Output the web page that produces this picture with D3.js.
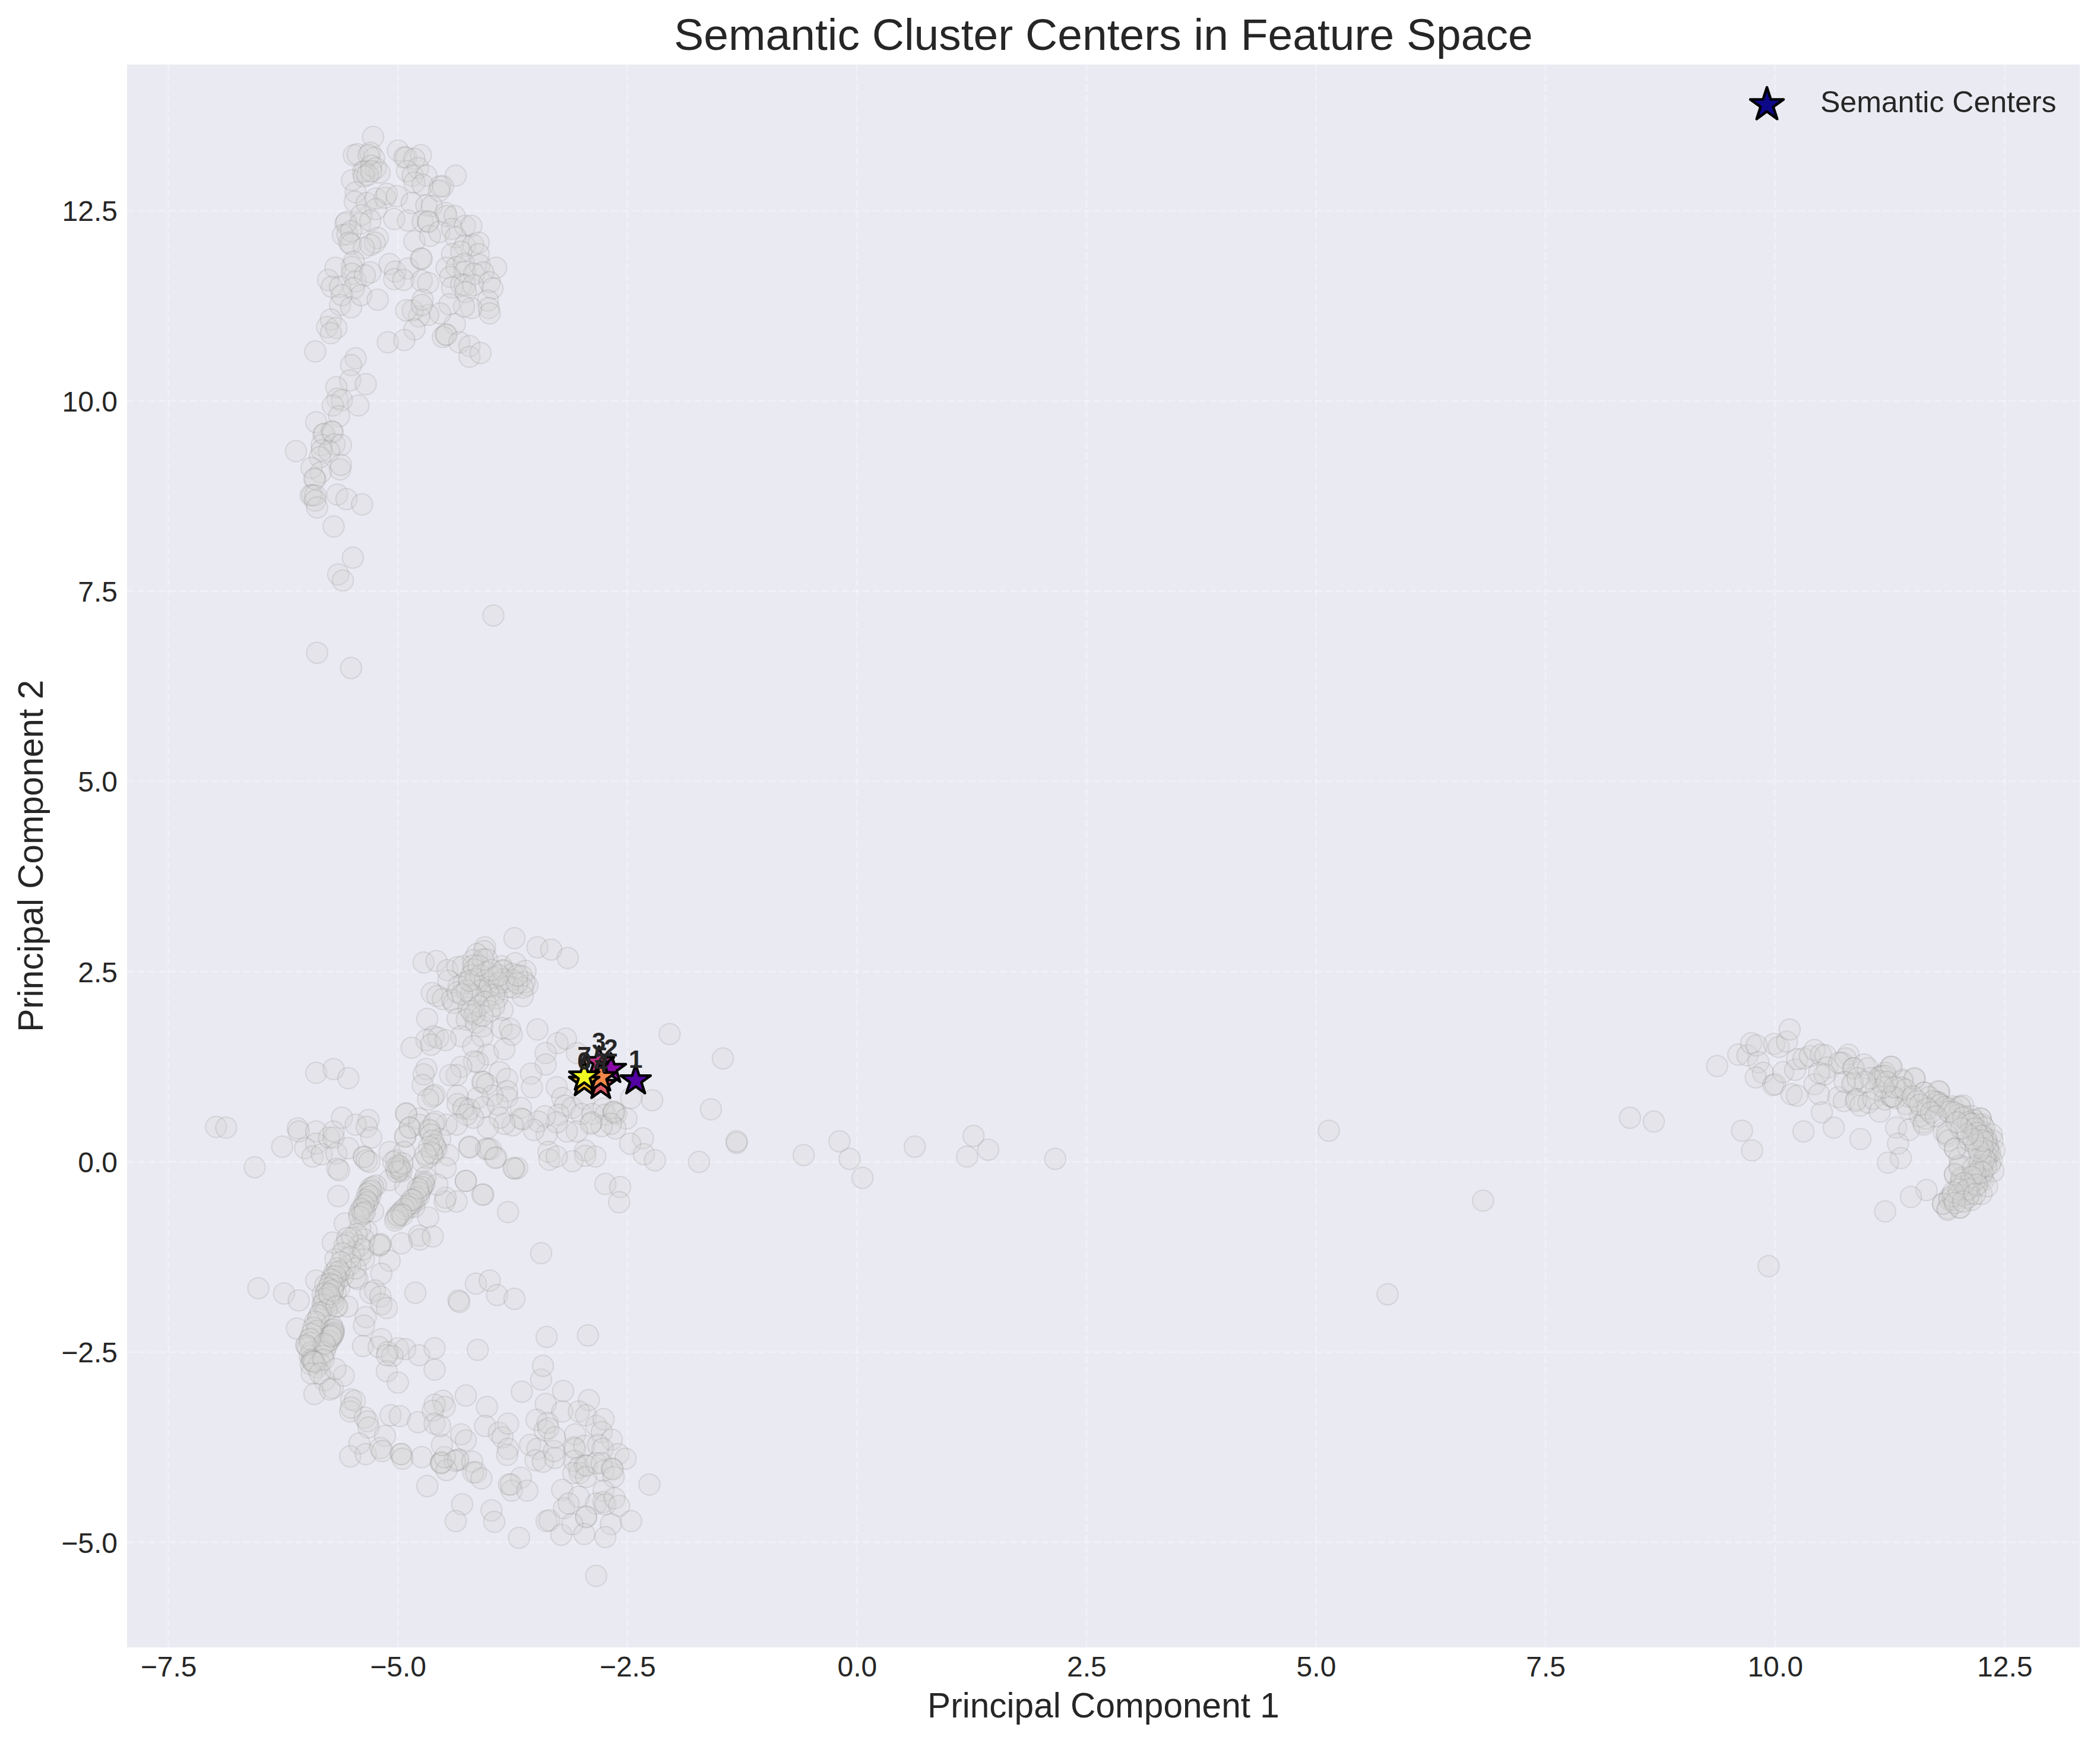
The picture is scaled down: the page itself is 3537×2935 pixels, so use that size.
<!DOCTYPE html>
<html><head><meta charset="utf-8">
<script src="https://cdn.jsdelivr.net/npm/d3@7"></script>
<style>html,body{margin:0;padding:0;background:#fff}svg{display:block}text{font-family:"Liberation Sans",Arial,sans-serif;fill:#262626}</style>
</head><body><div id="chart"></div>
<script>
const titleText = "Semantic Cluster Centers in Feature Space";
const xLabel = "Principal Component 1";
const yLabel = "Principal Component 2";
const legendLabel = "Semantic Centers";
const xTicks = [-7.5,-5,-2.5,0,2.5,5,7.5,10,12.5];
const yTicks = [-5,-2.5,0,2.5,5,7.5,10,12.5];
const xDomain = [-7.95,13.32];
const yDomain = [-6.38,14.42];

const upperCluster = [[-5.27,13.47],[-5.48,13.23],[-5.44,13.24],[-5.30,13.26],[-5.00,13.29],[-4.93,13.20],[-4.91,13.20],[-4.75,13.23],[-4.82,13.18],[-5.26,13.19],[-5.32,13.23],[-5.36,13.02],[-5.38,13.01],[-5.29,13.09],[-5.24,13.06],[-5.2,13.0],[-5.5,12.9],[-5.37,12.95],[-5.33,12.97],[-5.29,13.02],[-4.9,13.02],[-4.78,13.06],[-4.84,12.96],[-4.69,12.96],[-4.82,12.87],[-4.73,12.84],[-4.37,12.96],[-4.54,12.82],[-4.51,12.82],[-4.55,12.76],[-5.46,12.74],[-5.47,12.62],[-5.34,12.6],[-5.24,12.66],[-5.14,12.67],[-5.12,12.72],[-5.24,12.52],[-5.4,12.44],[-5.01,12.69],[-4.85,12.6],[-4.69,12.57],[-4.63,12.56],[-4.48,12.47],[-4.47,12.43],[-4.38,12.43],[-5.04,12.39],[-4.89,12.37],[-4.73,12.36],[-4.67,12.35],[-4.67,12.36],[-5.57,12.33],[-5.56,12.35],[-5.41,12.33],[-5.3,12.37],[-5.6,12.18],[-5.55,12.19],[-5.51,12.23],[-5.53,12.08],[-5.51,12.06],[-5.22,12.14],[-5.25,12.08],[-5.3,12.05],[-5.37,12.01],[-4.82,12.1],[-4.65,12.17],[-4.55,12.22],[-4.41,12.26],[-4.27,12.3],[-4.2,12.3],[-4.37,12.15],[-4.27,12.04],[-4.18,12.05],[-4.12,12.08],[-4.41,11.93],[-4.31,11.96],[-4.12,11.93],[-5.48,11.83],[-5.5,11.76],[-5.68,11.75],[-5.5,11.67],[-5.46,11.57],[-5.3,11.69],[-5.36,11.65],[-5.09,11.8],[-5.03,11.7],[-4.89,11.74],[-5.04,11.6],[-4.94,11.59],[-4.75,11.87],[-4.74,11.87],[-5.76,11.59],[-5.72,11.5],[-5.63,11.5],[-5.48,11.48],[-4.74,11.58],[-4.67,11.55],[-4.47,11.75],[-4.36,11.76],[-4.28,11.8],[-4.11,11.79],[-3.93,11.75],[-4.27,11.7],[-4.07,11.69],[-4.17,11.67],[-4.43,11.63],[-4.41,11.49],[-4.31,11.53],[-4.27,11.52],[-4.18,11.52],[-4.0,11.56],[-3.97,11.48],[-4.26,11.43],[-4.02,11.32],[-4.01,11.22],[-4.0,11.15],[-4.2,11.22],[-4.28,11.24],[-4.44,11.27],[-4.38,11.01],[-4.54,11.15],[-4.67,11.13],[-4.77,11.11],[-4.84,11.19],[-4.91,11.19],[-4.73,11.33],[-4.74,11.26],[-5.63,11.26],[-5.61,11.39],[-5.51,11.23],[-5.4,11.39],[-5.22,11.33],[-5.73,11.07],[-5.77,10.97],[-5.67,10.96],[-5.73,10.89],[-4.82,10.94],[-4.48,10.87],[-4.51,10.84],[-4.47,10.87],[-4.33,10.77],[-4.22,10.72],[-4.22,10.58],[-4.1,10.63],[-5.9,10.65],[-5.11,10.77],[-4.93,10.8],[-5.46,10.56],[-5.51,10.47],[-5.52,10.27],[-5.35,10.22],[-5.67,10.18]];

const tailCluster = [[-5.66,10.03],[-5.61,10.01],[-5.71,9.94],[-5.43,9.94],[-5.64,9.8],[-5.89,9.72],[-5.81,9.56],[-5.8,9.57],[-5.72,9.6],[-5.71,9.59],[-5.83,9.42],[-5.69,9.43],[-5.62,9.42],[-5.83,9.35],[-5.75,9.34],[-6.11,9.34],[-5.85,9.26],[-5.94,9.12],[-5.84,9.06],[-5.9,8.97],[-5.91,8.98],[-5.63,9.1],[-5.62,9.16],[-5.66,8.77],[-5.56,8.71],[-5.39,8.64],[-5.95,8.76],[-5.93,8.76],[-5.9,8.76],[-5.9,8.69],[-5.88,8.6],[-5.7,8.35],[-5.49,7.94],[-5.65,7.72],[-5.6,7.64],[-5.88,6.69],[-5.51,6.49],[-3.96,7.18]];

const centralCluster = [[-3.73,2.94],[-3.48,2.82],[-3.33,2.79],[-3.15,2.68],[-4.72,2.62],[-4.58,2.64],[-4.05,2.82],[-4.06,2.77],[-4.14,2.73],[-4.18,2.65],[-4.07,2.66],[-4.03,2.66],[-3.87,2.57],[-3.72,2.61],[-3.61,2.51],[-4.46,2.52],[-4.35,2.56],[-4.29,2.57],[-4.18,2.58],[-4.17,2.53],[-4.03,2.49],[-3.86,2.51],[-3.85,2.52],[-3.75,2.47],[-3.65,2.44],[-3.59,2.32],[-3.62,2.36],[-3.64,2.29],[-3.64,2.18],[-3.75,2.39],[-3.75,2.29],[-3.84,2.36],[-3.93,2.29],[-4.03,2.34],[-4.18,2.34],[-4.28,2.35],[-4.34,2.31],[-4.45,2.38],[-4.63,2.22],[-4.57,2.18],[-4.51,2.14],[-4.41,2.13],[-4.39,2.09],[-4.35,2.23],[-4.17,2.18],[-4.01,2.19],[-3.86,2.0],[-3.92,2.15],[-4.23,2.03],[-4.17,1.93],[-4.16,1.95],[-4.35,1.88],[-4.25,1.87],[-4.15,1.83],[-4.08,1.78],[-3.87,1.76],[-3.78,1.75],[-3.76,1.67],[-4.31,1.65],[-4.08,1.65],[-4.68,1.88],[-3.48,1.74],[-4.61,1.65],[-4.69,1.6],[-4.56,1.63],[-4.48,1.6],[-4.64,1.54],[-4.85,1.5],[-4.18,1.52],[-4.02,1.41],[-3.84,1.48],[-3.26,1.56],[-3.17,1.62],[-3.39,1.43],[-3.39,1.28],[-3.05,1.43],[-4.13,1.31],[-4.17,1.32],[-4.31,1.25],[-4.36,1.14],[-4.43,1.14],[-4.69,1.22],[-4.72,1.15],[-4.73,1.01],[-3.89,1.18],[-3.81,1.09],[-4.08,1.05],[-4.07,1.05],[-4.03,1.02],[-3.55,1.16],[-3.54,0.98],[-3.27,0.98],[-3.81,0.93],[-3.81,0.85],[-3.97,0.87],[-4.13,0.84],[-4.35,0.87],[-4.6,0.88],[-4.62,0.86],[-4.67,0.82],[-4.29,0.7],[-4.28,0.71],[-4.35,0.76],[-4.22,0.69],[-4.07,0.72],[-3.91,0.75],[-3.66,0.71],[-4.91,0.64],[-4.77,0.57],[-3.21,0.84],[-3.18,0.74],[-3.1,0.71],[-2.97,0.83],[-3.0,0.63],[-2.88,0.63],[-2.76,0.7],[-2.74,0.62],[-2.65,0.65],[-2.64,0.65],[-2.62,0.63],[-2.65,0.66],[-2.51,0.57],[-2.63,0.44],[-2.68,0.5],[-2.78,0.47],[-2.89,0.52],[-2.9,0.5],[-3.05,0.4],[-3.16,0.4],[-3.25,0.62],[-3.27,0.52],[-3.38,0.36],[-3.4,0.6],[-3.47,0.53],[-3.52,0.42],[-3.66,0.57],[-3.64,0.56],[-3.75,0.48],[-3.84,0.5],[-3.89,0.58],[-4.02,0.45],[-4.18,0.58],[-4.25,0.62],[-4.36,0.49],[-4.47,0.49],[-4.59,0.53],[-4.87,0.45],[-4.92,0.33],[-2.46,0.84],[-2.23,0.81],[-2.04,1.68],[-2.33,0.31],[-2.47,0.24],[-2.32,0.1],[-2.2,0.02],[-2.96,0.15],[-2.96,0.08],[-2.85,0.07],[-3.1,0.01],[-3.36,0.13],[-3.35,0.03],[-3.27,0.07],[-4.22,0.2],[-4.04,0.17],[-3.99,0.17],[-3.93,0.06],[-3.73,-0.09],[-3.70,-0.08],[-4.26,-0.25],[-2.74,-0.29],[-2.58,-0.33],[-4.07,-0.43],[-2.59,-0.53],[-3.8,-0.66],[-3.44,-1.2]];

const centralDense = [[-4.2,2.45],[-4.15,2.4],[-4.1,2.45],[-4.05,2.38],[-4.0,2.3],[-3.95,2.42],[-3.9,2.35],[-3.85,2.4],[-3.8,2.3],[-3.95,2.2],[-4.1,2.25],[-4.2,2.2],[-4.25,2.25],[-4.3,2.2],[-4.05,2.1],[-4.12,2.05],[-4.0,1.98],[-3.95,2.05],[-4.08,1.92],[-4.2,1.98],[-3.9,2.45],[-3.7,2.35],[-3.7,2.45],[-4.22,2.38],[-4.12,2.58],[-3.98,2.52]];

const bridgePoints = [[-1.46,1.36],[-1.59,0.69],[-1.72,0.0],[-1.31,0.25],[-1.31,0.27],[-0.58,0.09],[-0.19,0.27],[-0.08,0.04],[0.06,-0.21],[0.63,0.2],[1.2,0.07],[1.27,0.34],[1.43,0.16],[2.16,0.04],[5.14,0.41],[6.82,-0.51],[5.78,-1.74],[8.42,0.58],[8.68,0.53],[9.93,-1.37],[-2.93,-2.28],[-6.98,0.46],[-6.87,0.45]];

const middleBand = [[-5.89,1.17],[-5.70,1.22],[-5.54,1.1],[-6.56,-0.07],[-6.26,0.2],[-6.09,0.44],[-6.08,0.4],[-5.89,0.4],[-5.61,0.58],[-5.32,0.55],[-5.46,0.49],[-5.34,0.46],[-5.29,0.32],[-6.01,0.18],[-5.89,0.24],[-5.93,0.07],[-5.83,0.1],[-5.75,0.32],[-5.7,0.32],[-5.7,0.4],[-5.67,0.11],[-5.54,0.18],[-5.66,-0.09],[-5.64,-0.11],[-5.37,0.07],[-5.37,0.06],[-5.34,0.02],[-5.31,-0.0],[-5.09,0.13],[-5.65,-0.45],[-4.91,0.63],[-4.77,0.49],[-4.87,0.45],[-4.65,0.41],[-4.66,0.42],[-4.92,0.34],[-4.61,0.5],[-4.54,0.3],[-4.59,0.18],[-4.58,0.17],[-4.45,0.09],[-4.62,0.1],[-4.68,0.05],[-4.73,-0.0],[-4.48,-0.08],[-5.02,0.02],[-4.98,-0.11],[-4.99,-0.09],[-4.97,-0.09],[-4.93,0.13],[-5.09,-0.24],[-5.24,-0.31],[-5.3,-0.35],[-5.31,-0.39],[-5.32,-0.47],[-5.34,-0.55],[-5.39,-0.64],[-5.42,-0.67],[-5.37,-0.6],[-5.27,-0.65],[-4.92,-0.32],[-4.72,-0.26],[-4.71,-0.28],[-4.75,-0.37],[-4.77,-0.45],[-4.85,-0.55],[-4.88,-0.6],[-4.96,-0.65],[-5.0,-0.72],[-5.02,-0.74],[-4.82,-0.59],[-4.67,-0.73],[-4.49,-0.52],[-4.36,-0.52],[-4.48,-0.47],[-4.57,-0.3],[-4.26,-0.25],[-4.08,-0.43],[-4.22,0.19],[-4.02,0.17],[-3.94,0.05],[-3.74,-0.08],[-4.77,-0.97],[-4.76,-1.02],[-4.62,-0.98],[-4.96,-1.07],[-5.2,-1.09],[-5.2,-1.1],[-5.19,-1.08],[-5.58,-0.81],[-5.34,-0.91],[-5.41,-0.86],[-5.71,-1.06],[-5.55,-1.06],[-5.37,-1.02],[-5.41,-1.23],[-5.37,-1.28],[-5.09,-1.3],[-5.68,-1.28],[-5.18,-1.47],[-5.25,-1.69],[-5.3,-1.72],[-5.19,-1.77],[-5.44,-1.54],[-5.46,-1.52],[-5.58,-1.41],[-5.69,-1.45],[-5.71,-1.51],[-5.89,-1.56],[-5.79,-1.62],[-5.71,-1.69],[-5.69,-1.58],[-6.52,-1.66],[-6.24,-1.73],[-6.08,-1.82],[-4.81,-1.72],[-4.15,-1.6],[-4.0,-1.56],[-3.92,-1.75],[-3.73,-1.8],[-4.34,-1.82],[-4.33,-1.84],[-5.18,-1.87],[-5.12,-1.92],[-5.81,-1.85],[-5.8,-1.9],[-5.82,-1.74],[-5.66,-1.9],[-5.55,-1.9],[-5.35,-2.04],[-5.37,-2.15],[-5.88,-2.12],[-5.87,-2.06],[-6.1,-2.19],[-5.95,-2.32],[-5.99,-2.41],[-5.71,-2.21],[-5.73,-2.28],[-5.7,-2.23],[-5.76,-2.36],[-5.82,-2.41],[-5.93,-2.59],[-5.38,-2.42],[-5.18,-2.33],[-5.21,-2.43],[-5.0,-2.45],[-4.92,-2.46],[-5.11,-2.5],[-5.06,-2.55],[-4.77,-2.54],[-4.6,-2.45],[-4.13,-2.47]];

const strands = [[-5.27,-0.33],[-5.29,-0.38],[-5.33,-0.42],[-5.3,-0.45],[-5.35,-0.5],[-5.33,-0.53],[-5.37,-0.57],[-5.4,-0.62],[-5.38,-0.68],[-5.42,-0.72],[-5.36,-0.66],[-4.7,-0.2],[-4.72,-0.3],[-4.74,-0.33],[-4.77,-0.4],[-4.8,-0.47],[-4.83,-0.5],[-4.87,-0.55],[-4.9,-0.58],[-4.93,-0.62],[-4.97,-0.68],[-5.0,-0.7],[-5.03,-0.77],[-4.78,-0.35],[-4.85,-0.5],[-4.95,-0.7],[-5.0,-0.05],[-5.02,-0.08],[-4.98,-0.06],[-4.96,-0.12],[-5.01,-0.13],[-4.95,-0.02],[-5.05,0.0],[-4.64,0.36],[-4.62,0.28],[-4.6,0.22],[-4.66,0.2],[-4.63,0.12],[-4.7,0.1],[-5.45,-0.95],[-5.5,-1.0],[-5.42,-1.1],[-5.48,-1.18],[-5.38,-1.15],[-5.52,-1.35],[-5.46,-1.4],[-5.6,-1.5],[-5.66,-1.56],[-5.64,-1.66],[-5.68,-1.72],[-5.72,-1.82],[-5.7,-1.85]];

const denseBand = [[-5.55,-1.0],[-5.58,-1.1],[-5.6,-1.2],[-5.52,-1.25],[-5.62,-1.32],[-5.66,-1.4],[-5.64,-1.44],[-5.68,-1.5],[-5.72,-1.55],[-5.74,-1.6],[-5.7,-1.62],[-5.76,-1.66],[-5.78,-1.72],[-5.74,-1.78],[-5.8,-1.8],[-5.82,-1.88],[-5.78,-1.95],[-5.84,-1.98],[-5.86,-2.02],[-5.9,-2.1],[-5.92,-2.18],[-5.88,-2.22],[-5.94,-2.26],[-5.96,-2.38],[-5.98,-2.44],[-5.94,-2.5],[-5.96,-2.55],[-5.94,-2.6],[-5.95,-2.66],[-5.72,-2.15],[-5.7,-2.2],[-5.72,-2.3],[-5.75,-2.35],[-5.78,-2.42],[-5.8,-2.5],[-5.82,-2.55],[-5.85,-2.65],[-5.88,-2.7]];

const lowerCluster = [[-5.71,-1.69],[-5.75,-1.74],[-5.67,-1.9],[-5.7,-2.25],[-5.71,-2.27],[-5.73,-2.29],[-5.96,-2.33],[-6.0,-2.41],[-5.8,-2.39],[-5.92,-2.62],[-5.93,-2.62],[-5.91,-2.63],[-5.81,-2.6],[-5.94,-2.78],[-5.8,-2.87],[-5.85,-2.78],[-5.91,-3.05],[-5.71,-2.97],[-5.59,-2.81],[-5.68,-2.72],[-5.74,-2.99],[-5.51,-3.12],[-5.47,-3.14],[-5.52,-3.28],[-5.51,-3.23],[-5.36,-3.36],[-5.33,-3.41],[-5.32,-3.49],[-5.14,-3.6],[-5.42,-3.7],[-5.52,-3.87],[-5.35,-3.84],[-5.19,-3.76],[-5.17,-3.8],[-4.97,-3.84],[-4.96,-3.84],[-4.95,-3.9],[-5.08,-3.33],[-4.98,-3.34],[-4.78,-3.42],[-4.74,-3.88],[-4.53,-3.95],[-4.52,-3.95],[-4.53,-3.96],[-4.35,-3.92],[-4.34,-3.91],[-4.38,-3.93],[-4.47,-4.05],[-4.49,-3.88],[-4.52,-3.72],[-4.68,-4.26],[-4.19,-3.94],[-4.18,-4.08],[-4.15,-4.08],[-4.09,-4.16],[-4.3,-4.5],[-4.37,-4.72],[-3.98,-4.58],[-3.95,-4.73],[-4.6,-2.73],[-5.12,-2.75],[-5.12,-2.54],[-5.0,-2.9],[-4.26,-3.07],[-4.03,-3.22],[-4.51,-3.14],[-4.49,-3.22],[-4.6,-3.19],[-4.62,-3.27],[-4.6,-3.44],[-4.54,-3.47],[-4.31,-3.58],[-4.26,-3.66],[-4.05,-3.47],[-3.9,-3.56],[-3.86,-3.62],[-3.8,-3.44],[-3.8,-3.77],[-3.81,-3.85],[-3.65,-3.02],[-3.44,-2.86],[-3.42,-2.68],[-3.38,-2.3],[-3.39,-3.18],[-3.21,-3.28],[-3.49,-3.39],[-3.4,-3.53],[-3.37,-3.43],[-3.36,-3.5],[-3.56,-3.72],[-3.48,-3.77],[-3.5,-3.92],[-3.42,-3.94],[-3.29,-3.89],[-3.3,-3.8],[-3.29,-3.62],[-3.66,-4.15],[-3.79,-4.24],[-3.76,-4.32],[-3.77,-4.24],[-3.59,-4.32],[-3.38,-4.72],[-3.35,-4.71],[-3.68,-4.94],[-3.22,-4.9],[-3.21,-4.31],[-3.19,-4.55],[-3.2,-3.01],[-2.92,-3.13],[-3.03,-3.28],[-2.95,-3.33],[-2.84,-3.47],[-2.76,-3.38],[-2.78,-3.55],[-2.67,-3.65],[-3.07,-3.58],[-3.08,-3.75],[-3.07,-3.77],[-2.97,-3.73],[-2.82,-3.72],[-2.77,-3.77],[-2.6,-3.84],[-2.52,-3.9],[-3.08,-3.93],[-3.03,-4.02],[-3.02,-4.09],[-3.09,-4.09],[-2.96,-3.99],[-2.94,-3.99],[-2.95,-4.14],[-2.84,-3.96],[-2.78,-3.96],[-2.76,-4.06],[-2.67,-4.03],[-2.66,-4.04],[-2.65,-4.14],[-2.76,-4.32],[-2.26,-4.24],[-3.03,-4.4],[-3.14,-4.49],[-2.84,-4.49],[-2.76,-4.47],[-2.74,-4.5],[-2.64,-4.42],[-2.59,-4.52],[-2.95,-4.67],[-2.95,-4.66],[-3.1,-4.76],[-2.68,-4.76],[-2.46,-4.72],[-2.97,-4.89],[-2.74,-4.93],[-2.84,-5.44]];

const rightArc = [[9.37,1.26],[9.6,1.41],[9.7,1.4],[9.74,1.56],[9.8,1.53],[9.82,1.31],[9.87,1.17],[9.79,1.11],[9.99,1.55],[10.04,1.51],[10.13,1.58],[10.16,1.74],[9.98,1.01],[10.0,1.02],[10.09,1.18],[10.22,1.21],[10.24,1.35],[10.31,1.36],[10.38,1.39],[10.43,1.47],[10.18,0.89],[10.24,0.87],[10.43,1.02],[10.48,0.89],[10.51,0.65],[10.64,0.45],[10.31,0.4],[9.64,0.41],[9.75,0.15],[10.93,0.3],[11.32,0.45],[11.46,0.42],[11.34,0.24],[11.37,0.05],[11.23,-0.01],[11.65,-0.37],[11.48,-0.46],[11.2,-0.65],[10.5,1.41],[10.55,1.4],[10.57,1.24],[10.54,1.15],[10.48,1.17],[10.69,0.85],[10.75,0.8],[10.8,1.41],[10.77,1.36],[10.73,1.3],[10.7,1.3],[10.85,1.23],[10.86,1.23],[10.97,1.28],[11.01,1.23],[10.85,1.04],[10.84,1.02],[10.76,1.05],[10.89,0.82],[10.88,0.8],[10.93,0.74],[11.02,0.78],[11.07,0.83],[11.14,0.66],[11.15,1.12],[11.14,1.12],[11.26,1.25],[11.2,1.17],[11.2,0.82],[11.26,0.86],[11.28,0.86],[11.39,1.08],[11.52,1.09],[11.38,0.97],[11.43,0.76],[11.45,0.86],[11.62,0.91],[11.6,0.67],[11.62,0.52],[11.64,0.57],[11.77,0.79],[11.77,0.79],[11.79,0.92],[11.76,0.78],[11.88,0.67],[11.93,0.73],[12.01,0.73],[11.84,0.39],[11.88,0.34],[11.96,0.18],[12.01,0.05],[12.01,-0.08],[11.96,-0.17],[12.03,-0.21],[11.83,-0.55],[11.88,-0.61],[12.01,-0.6],[11.9,-0.47],[11.99,-0.45],[12.12,-0.42],[12.16,0.44],[12.12,0.52],[12.24,0.57],[12.25,0.36],[12.08,0.39],[12.29,0.13],[12.21,-0.16],[12.25,-0.21]];

const arcEnd = [[11.77,0.78],[11.9,0.7],[12.02,0.72],[12.05,0.74],[12.14,0.6],[12.24,0.57],[12.26,0.49],[12.14,0.43],[12.25,0.4],[12.36,0.36],[12.37,0.28],[12.39,0.15],[12.3,0.09],[12.29,0.1],[12.36,0.02],[12.38,-0.12],[12.34,-0.03],[12.27,-0.0],[12.2,-0.16],[12.22,-0.21],[12.27,-0.24],[12.18,-0.32],[12.12,-0.42],[12.0,-0.43],[12.02,-0.29],[12.03,-0.24],[11.9,-0.5],[11.83,-0.55],[11.88,-0.63],[12.02,-0.6],[12.14,-0.5],[12.25,-0.42],[12.31,-0.32],[11.96,-0.16],[12.01,-0.05],[12.1,0.2],[12.12,0.28],[11.87,0.37],[11.89,0.28],[11.96,0.17],[11.17,1.13],[11.2,1.13],[11.14,1.06],[11.27,1.25],[11.37,0.98],[11.39,1.06],[11.28,0.86],[11.31,0.84],[11.52,1.1],[11.58,0.6],[11.62,0.49],[11.45,0.7],[11.63,0.91],[11.78,0.93],[12.3,0.3],[12.32,0.2],[12.28,0.24],[12.34,0.12],[12.3,0.02],[12.25,-0.08],[12.22,-0.1],[12.18,-0.24],[12.12,-0.3],[12.08,-0.38],[12.05,-0.44],[11.95,-0.5],[11.93,-0.45],[12.1,-0.47],[12.2,0.5],[12.16,0.55],[12.22,0.34],[12.28,0.45],[12.06,0.6],[12.0,0.62]];

const arcDense = [[11.68,0.85],[11.72,0.8],[11.8,0.75],[11.85,0.72],[11.9,0.66],[11.95,0.65],[12.05,0.58],[12.1,0.52],[12.14,0.5],[12.18,0.44],[12.2,0.38],[12.26,0.34],[12.3,0.26],[12.32,0.14],[12.26,0.18],[12.24,0.06],[12.28,0.04],[12.3,-0.06],[12.26,-0.14],[12.18,-0.16],[12.16,-0.08],[12.14,-0.2],[12.2,-0.3],[12.1,-0.36],[12.06,-0.28],[12.0,-0.36],[11.94,-0.4],[11.96,-0.54],[12.05,-0.52],[12.18,-0.42],[12.2,0.22],[12.22,0.14],[12.26,0.28],[12.16,0.3],[12.1,0.36],[12.03,0.44],[11.98,0.52],[11.1,0.95],[11.18,0.98],[11.3,0.98],[11.42,0.95],[11.5,0.86],[11.55,0.8],[11.58,0.75],[11.66,0.7],[11.7,0.65],[11.75,0.6],[11.04,1.1],[10.98,1.05],[10.9,1.1],[11.22,1.05]];

const centerIds = [0,1,2,3,4,5,6,7];
const centerX = [-2.97,-2.41,-2.68,-2.81,-2.79,-2.79,-2.97,-2.97];
const centerY = [1.05,1.07,1.22,1.31,1.01,1.11,1.05,1.12];

const W = 3537, H = 2935;
const plot = {l:214, r:3503, t:108.7, b:2774};
const x = d3.scaleLinear().domain(xDomain).range([plot.l, plot.r]);
const y = d3.scaleLinear().domain(yDomain).range([plot.b, plot.t]);
const svg = d3.select("#chart").append("svg").attr("width",W).attr("height",H).attr("viewBox",[0,0,W,H]);
svg.append("rect").attr("width",W).attr("height",H).attr("fill","#fff");
svg.append("rect").attr("x",plot.l).attr("y",plot.t).attr("width",plot.r-plot.l).attr("height",plot.b-plot.t).attr("fill","#EAEAF2");

const gridStyle = s => s.attr("stroke","#fff").attr("stroke-opacity",0.3).attr("stroke-width",3.2).attr("stroke-dasharray","12.5,5.2");
gridStyle(svg.append("g").selectAll("line").data(xTicks).join("line").attr("x1",d=>x(d)).attr("x2",d=>x(d)).attr("y1",plot.b).attr("y2",plot.t));
gridStyle(svg.append("g").selectAll("line").data(yTicks).join("line").attr("y1",d=>y(d)).attr("y2",d=>y(d)).attr("x1",plot.l).attr("x2",plot.r));

const points = [].concat(upperCluster,tailCluster,centralCluster,centralDense,bridgePoints,middleBand,strands,denseBand,lowerCluster,rightArc,arcEnd,arcDense);
svg.append("g").selectAll("circle").data(points).join("circle")
  .attr("cx",d=>x(d[0])).attr("cy",d=>y(d[1])).attr("r",17.8)
  .attr("fill","#d3d3d3").attr("fill-opacity",0.26)
  .attr("stroke","#808080").attr("stroke-opacity",0.2).attr("stroke-width",2);

const plasma = centerIds.map(i=>d3.interpolatePlasma(i/7));
const starPath = R => {
  const pts=[]; for(let k=0;k<10;k++){const r=k%2?R*0.381966:R;const a=-Math.PI/2+k*Math.PI/5;pts.push([r*Math.cos(a),r*Math.sin(a)]);}
  return d3.line()(pts)+"Z";
};
svg.append("g").selectAll("path").data(centerIds).join("path")
  .attr("d",starPath(26.5))
  .attr("transform",i=>`translate(${x(centerX[i])},${y(centerY[i])})`)
  .attr("fill",i=>plasma[i]).attr("stroke","#000").attr("stroke-width",4.4).attr("stroke-linejoin","round");
svg.append("g").selectAll("text").data(centerIds).join("text")
  .attr("x",i=>x(centerX[i])).attr("y",i=>y(centerY[i])-21)
  .attr("text-anchor","middle").attr("font-size",42).attr("font-weight","bold").text(i=>i);

const fmt = d3.format(".1f");
const gx = svg.append("g").attr("transform",`translate(0,${plot.b})`).call(d3.axisBottom(x).tickValues(xTicks).tickSize(0).tickPadding(0).tickFormat(fmt));
gx.select(".domain").remove();
gx.selectAll("text").attr("y",49).attr("dy",0).attr("font-size",48).attr("fill","#262626").style("font-family",'"Liberation Sans"');
const gy = svg.append("g").attr("transform",`translate(${plot.l},0)`).call(d3.axisLeft(y).tickValues(yTicks).tickSize(0).tickPadding(0).tickFormat(fmt));
gy.select(".domain").remove();
gy.selectAll("text").attr("x",-16).attr("dy",17).attr("font-size",48).attr("fill","#262626").style("font-family",'"Liberation Sans"');

svg.append("text").attr("x",(plot.l+plot.r)/2).attr("y",84).attr("text-anchor","middle").attr("font-size",75).text(titleText);
svg.append("text").attr("x",(plot.l+plot.r)/2).attr("y",2892).attr("text-anchor","middle").attr("font-size",58.6).text(xLabel);
svg.append("text").attr("transform",`translate(72,${(plot.t+plot.b)/2}) rotate(-90)`).attr("text-anchor","middle").attr("font-size",58.6).text(yLabel);

const legend = svg.append("g");
legend.append("path").attr("d",starPath(29.5)).attr("transform","translate(2976,176.5)").attr("fill",plasma[0]).attr("stroke","#000").attr("stroke-width",4.4).attr("stroke-linejoin","round");
legend.append("text").attr("x",3066).attr("y",189).attr("font-size",50).text(legendLabel);
</script></body></html>
